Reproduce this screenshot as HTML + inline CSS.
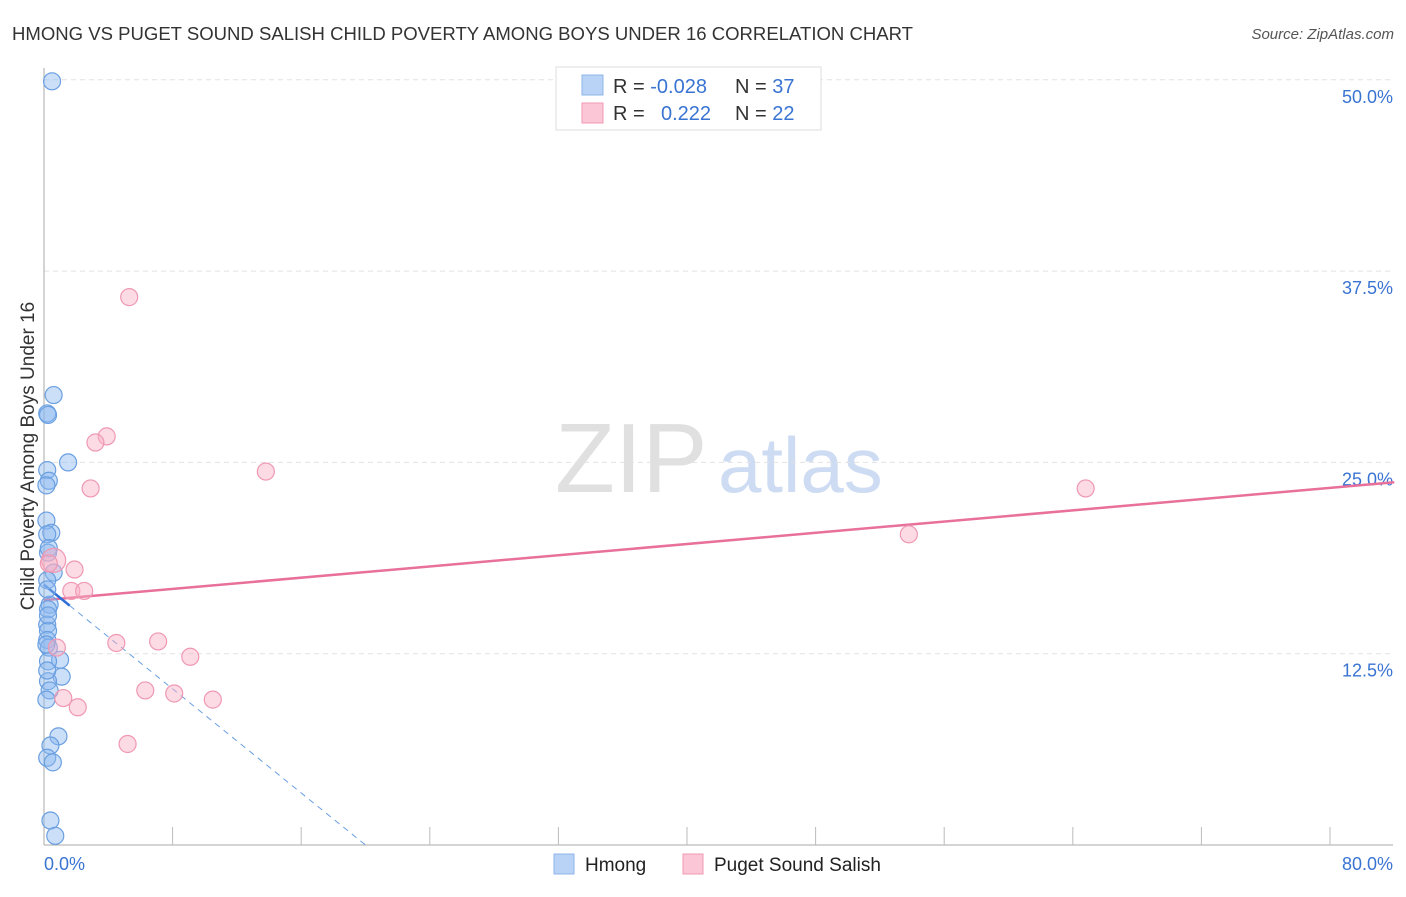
<!DOCTYPE html>
<html><head><meta charset="utf-8"><style>
body{margin:0;background:#fff;font-family:"Liberation Sans",sans-serif;}
svg text{font-family:"Liberation Sans",sans-serif;}
</style></head><body>
<svg id="chart" width="1406" height="892" xmlns="http://www.w3.org/2000/svg">
<text x="12" y="40" font-size="18" fill="#333" textLength="901" lengthAdjust="spacingAndGlyphs">HMONG VS PUGET SOUND SALISH CHILD POVERTY AMONG BOYS UNDER 16 CORRELATION CHART</text>
<text x="1394" y="39" font-size="15" fill="#555" font-style="italic" text-anchor="end">Source: ZipAtlas.com</text>
<g><text x="555" y="492" font-size="98" fill="#e0e0e0" font-family="Liberation Serif">ZIP</text><text x="718" y="492" font-size="78" fill="#cddcf2">atlas</text></g>
<g id="grid"></g>
<g id="axes"></g>
<g id="trends"></g>
<g id="pts"></g>
<text x="34" y="456" font-size="19" fill="#333" text-anchor="middle" transform="rotate(-90 34 456)">Child Poverty Among Boys Under 16</text>
<g>
<rect x="556" y="67" width="265" height="63" fill="#fff" stroke="#ddd"/>
<rect x="582" y="75" width="21" height="20" fill="#b9d3f6" stroke="#8fb5ea"/>
<rect x="582" y="103" width="21" height="20" fill="#fbc7d6" stroke="#f19ab3"/>
<text x="613" y="93" font-size="20" fill="#333">R = <tspan fill="#3a74d2">-0.028</tspan><tspan x="735">N = </tspan><tspan fill="#3a74d2">37</tspan></text>
<text x="613" y="120" font-size="20" fill="#333">R = <tspan x="661" fill="#3a74d2">0.222</tspan><tspan x="735">N = </tspan><tspan fill="#3a74d2">22</tspan></text>
</g>
<g>
<rect x="554" y="854" width="20" height="20" fill="#b9d3f6" stroke="#8fb5ea"/>
<text x="585" y="871" font-size="19" fill="#222">Hmong</text>
<rect x="683" y="854" width="20" height="20" fill="#fbc7d6" stroke="#f19ab3"/>
<text x="714" y="871" font-size="19" fill="#222">Puget Sound Salish</text>
</g>
</svg>
<script>
const yTicks=[12.5,25,37.5,50];
const yTickLabels=["12.5%","25.0%","37.5%","50.0%"];
const xTickLabels=["0.0%","80.0%"];
const hmongX=[0.5,0.6,0.2,0.25,1.5,0.2,0.3,0.15,0.15,0.45,0.2,0.25,0.6,0.2,0.35,0.25,0.2,0.25,0.2,0.3,1.0,0.25,1.1,0.25,0.35,0.9,0.4,0.2,0.55,0.4,0.7,0.25,0.15,0.2,0.2,0.3,0.15];
const hmongY=[49.9,29.4,28.2,28.1,25.0,24.5,23.8,23.5,21.2,20.4,20.3,19.1,17.8,17.3,15.7,15.4,14.4,14.0,13.4,12.9,12.1,12.0,11.0,10.7,10.1,7.1,6.5,5.7,5.4,1.6,0.6,15.0,13.1,11.4,16.7,19.4,9.5];
const salishX=[5.3,3.9,3.2,2.9,13.8,64.8,53.8,0.6,1.9,1.7,2.5,4.5,7.1,9.1,0.8,6.3,8.1,10.5,1.2,2.1,5.2,0.3];
const salishY=[35.8,26.7,26.3,23.3,24.4,23.3,20.3,18.6,18.0,16.6,16.6,13.2,13.3,12.3,12.9,10.1,9.9,9.5,9.6,9.0,6.6,18.4];
const salishTrend=[[0,16.0],[84,23.7]];
const hmongTrend=[[0,17.0],[20,0]];
const NS="http://www.w3.org/2000/svg";
const X=v=>44+v/80*1286, Y=v=>845-v/12.5*191.3;
function mk(t,a,p){const e=document.createElementNS(NS,t);for(const k in a)e.setAttribute(k,a[k]);p.appendChild(e);return e;}
const grid=document.getElementById('grid'),axes=document.getElementById('axes'),tr=document.getElementById('trends'),pts=document.getElementById('pts');
yTicks.forEach((t,i)=>{
 const l=mk('line',{x1:44,x2:1393,y1:Y(t),y2:Y(t),stroke:'#e2e2e2','stroke-dasharray':'5,4'},grid);
 
 
 const tx=mk('text',{x:1393,y:Y(t)+23,'font-size':18,fill:'#3a74d2','text-anchor':'end'},axes);
 tx.textContent=yTickLabels[i];
 
 
});
const ya=mk('line',{x1:44,x2:44,y1:68,y2:845,stroke:'#aaa'},axes);


const xa=mk('line',{x1:44,x2:1393,y1:845,y2:845,stroke:'#aaa'},axes);


for(let i=1;i<=10;i++){const t=mk('line',{x1:X(i*8),x2:X(i*8),y1:827,y2:845,stroke:'#bbb'},axes);
 
 }
[[0,'start'],[80,'end']].forEach((d,i)=>{const t=mk('text',{x:d[0]===0?44:1393,y:870,'font-size':18,fill:'#3a74d2','text-anchor':d[1]},axes);t.textContent=xTickLabels[i];
 
 });
hmongX.forEach((x,i)=>{const c=mk('circle',{cx:X(x),cy:Y(hmongY[i]),r:8.5,fill:'rgba(140,185,240,0.45)',stroke:'#6a9fe0','stroke-width':1.2},pts);
 
 });
salishX.forEach((x,i)=>{const c=mk('circle',{cx:X(x),cy:Y(salishY[i]),r:i==7?12:8.5,fill:'rgba(248,175,198,0.45)',stroke:'#ef98b3','stroke-width':1.2},pts);
 
 });
const pl=mk('line',{x1:X(salishTrend[0][0]),y1:Y(salishTrend[0][1]),x2:X(salishTrend[1][0]),y2:Y(salishTrend[1][1]),stroke:'#e8709a','stroke-width':2.5},tr);


const bd=mk('line',{x1:X(hmongTrend[0][0]),y1:Y(hmongTrend[0][1]),x2:X(hmongTrend[1][0]),y2:Y(hmongTrend[1][1]),stroke:'#6a9fe0','stroke-width':1,'stroke-dasharray':'6,5'},tr);


const f=1.6/20,hx=hmongTrend[0][0]+(hmongTrend[1][0]-hmongTrend[0][0])*f,hy=hmongTrend[0][1]+(hmongTrend[1][1]-hmongTrend[0][1])*f;
const bs=mk('line',{x1:X(hmongTrend[0][0]),y1:Y(hmongTrend[0][1]),x2:X(hx),y2:Y(hy),stroke:'#2f6fd6','stroke-width':2.5},tr);


</script>
</body></html>
